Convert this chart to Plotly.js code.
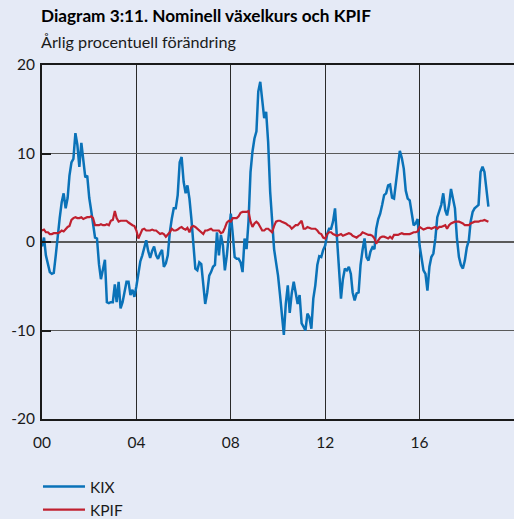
<!DOCTYPE html>
<html>
<head>
<meta charset="utf-8">
<script src="https://cdn.plot.ly/plotly-3.0.1.min.js"></script>
<style>
html,body{margin:0;padding:0;background:#e5eaf6;}
#chart{width:514px;height:519px;}
</style>
</head>
<body>
<div id="chart"></div>
<script>
// Monthly data, January 2000 - December 2018
const startYear = 2000;
const kix = [
 -0.5, 0.5,-1.5,-2.5,-3.4,-3.6,-3.5,-1.5, 1.0, 2.7, 4.5, 5.5,
  3.8, 5.0, 7.5, 9.0, 9.4,12.3,11.0, 8.5,11.2, 9.5, 7.3, 7.5,
  5.0, 3.5, 2.0, 0.5, 0.4,-2.5,-4.2,-3.0,-2.0,-6.8,-6.9,-6.8,
 -6.8,-4.8,-6.8,-4.5,-7.5,-6.8,-5.5,-4.5,-4.5,-6.0,-5.4,-6.2,
 -5.0,-3.5,-2.2,-1.5,-0.5, 0.2,-1.0,-1.8,-1.0,-0.5,-1.5,-1.9,
 -1.3,-0.9,-2.8,-2.4,-1.5, 1.1, 2.6, 3.8, 3.8, 5.3, 9.0, 9.6,
  6.8, 5.5, 6.4, 4.9, 2.6, 0.0,-3.0,-3.2,-2.3,-2.5,-4.5,-7.0,
 -5.7,-3.8,-3.4,-2.8,-2.6, 1.1,-1.5, 0.8,-0.4,-3.2,-1.5, 1.1,
  3.2, 0.8,-1.7,-1.9,-1.9,-2.3,-3.4, 0.4,-0.8, 2.3, 7.9,10.2,
 11.7,12.5,17.0,18.1,16.4,14.0,14.7,11.3, 5.7, 2.3,-0.8,-2.3,
 -3.8,-6.0,-7.9,-10.5,-7.0,-4.9,-8.0,-5.8,-4.5,-6.0,-7.0,-6.0,
 -9.2,-9.6,-10.0,-8.1,-8.5,-9.8,-6.4,-4.9,-2.6,-1.6,-1.7,-0.9,
 -0.4, 0.9, 1.5, 1.5, 2.3, 3.8, 0.0,-3.4,-6.4,-4.2,-3.0,-3.2,
 -2.8,-3.6,-5.7,-6.6,-5.8,-5.7,-2.6,-0.9, 0.4,-1.7,-2.1,-1.1,
 -0.6,-0.8, 1.5, 2.6, 3.2, 4.2, 5.3, 5.5, 6.4, 6.5, 5.0, 4.9,
  6.8, 9.1,10.3, 9.5, 8.3, 5.8, 4.9, 4.7, 3.4, 1.9, 2.1, 2.6,
 -0.4,-2.1,-3.2,-3.6,-5.5,-2.8,-1.7,-1.3, 0.4, 2.8, 3.6, 4.2,
  5.5, 3.6, 3.0, 4.2, 6.0, 4.9, 3.8, 0.4,-1.7,-2.6,-3.0,-2.1,
 -0.6, 0.2, 2.3, 3.4, 3.8, 4.0, 4.2, 7.9, 8.5, 7.9, 5.8, 4.0
];
const kpif = [
 1.3,1.4,1.1,1.1,0.9,0.9,1.0,1.0,1.0,1.1,1.3,1.2,
 1.5,1.7,1.8,2.5,2.7,2.8,2.7,2.7,2.8,2.6,2.7,2.8,
 2.8,2.9,2.7,1.9,1.9,1.9,2.0,1.9,1.9,2.0,1.9,2.4,
 2.5,3.5,2.7,2.3,2.4,2.4,2.4,2.4,2.2,2.0,1.9,1.8,
 1.3,0.4,0.9,1.4,1.5,1.3,1.3,1.3,1.4,1.3,1.3,1.1,
 0.9,1.0,0.9,0.6,0.8,1.1,1.5,1.3,1.3,1.4,1.6,1.7,
 1.5,1.4,1.6,1.1,1.7,1.8,1.7,1.5,1.3,1.1,0.9,1.3,
 1.3,1.4,1.5,1.3,1.3,1.3,1.3,1.0,1.1,1.6,2.2,2.4,
 2.3,2.7,2.7,2.7,2.9,3.3,3.4,3.4,3.4,3.5,2.3,1.7,
 2.1,2.3,2.1,1.7,1.3,1.3,1.5,1.5,1.3,1.1,1.8,2.3,
 2.4,2.4,2.3,2.2,2.1,1.9,1.8,1.5,1.7,1.9,1.9,2.1,
 2.4,1.5,1.5,1.7,1.6,1.5,1.5,1.5,1.3,1.0,0.9,0.5,
 0.4,0.9,1.1,1.1,0.9,0.8,0.7,0.8,0.9,0.7,0.8,0.9,
 1.0,0.9,0.7,0.6,0.5,0.7,0.8,1.1,1.0,0.9,0.8,0.8,
 0.7,0.4,-0.2,0.2,0.5,0.6,0.6,0.5,0.4,0.6,0.4,0.8,
 0.8,0.8,0.9,1.0,0.9,0.9,0.9,0.9,1.0,1.1,1.1,1.2,
 1.7,1.5,1.4,1.5,1.6,1.6,1.5,1.6,1.7,1.5,1.7,1.7,
 1.8,1.9,1.5,1.9,2.1,2.2,2.3,2.3,2.3,2.2,2.1,1.9,
 1.9,1.9,2.1,2.2,2.3,2.3,2.3,2.4,2.4,2.5,2.4,2.3
];
const xTickVals = ['2000-01-01','2004-01-01','2008-01-01','2012-01-01','2016-01-01'];
const xTickText = ['00','04','08','12','16'];
const yTickVals = [-20,-10,0,10,20];
const yTickText = ['-20','-10','0','10','20'];
const titleText = 'Diagram 3:11. Nominell växelkurs och KPIF';
const subtitleText = 'Årlig procentuell förändring';
const seriesNames = ['KIX','KPIF'];

const dates = kix.map((_, i) => {
  const y = startYear + Math.floor(i / 12);
  const m = (i % 12) + 1;
  return y + '-' + (m < 10 ? '0' + m : m) + '-01';
});

const BG = '#e5eaf6';
const FONT = 'Lato, "Open Sans", sans-serif';

const traces = [
  {x: dates, y: kix, name: seriesNames[0], type: 'scatter', mode: 'lines',
   line: {color: '#0a72b8', width: 2.5}},
  {x: dates, y: kpif, name: seriesNames[1], type: 'scatter', mode: 'lines',
   line: {color: '#c0202f', width: 2.2}}
];

const layout = {
  width: 514, height: 519,
  paper_bgcolor: BG, plot_bgcolor: BG,
  margin: {l: 42, r: 0, t: 65, b: 100, pad: 0, autoexpand: false},
  font: {family: FONT, size: 15, color: '#1a1a1a'},
  showlegend: true,
  legend: {x: -0.0085, xanchor: 'left', y: -0.144, yanchor: 'top',
           bgcolor: 'rgba(0,0,0,0)', font: {size: 15.5, family: FONT, color: '#1a1a1a'},
           tracegroupgap: 0, itemwidth: 42},
  xaxis: {type: 'date', range: ['2000-01-01', '2020-01-01'],
          tickmode: 'array', tickvals: xTickVals, ticktext: xTickText,
          showgrid: true, gridcolor: '#2a2a2a', gridwidth: 1,
          showline: true, linecolor: '#1a1a1a', linewidth: 2, mirror: true,
          ticks: '', ticklabelstandoff: 8, zeroline: false,
          tickfont: {size: 15.5, family: FONT, color: '#1a1a1a'}, fixedrange: true},
  yaxis: {range: [-20, 20], tickmode: 'array', tickvals: yTickVals, ticktext: yTickText,
          showgrid: true, gridcolor: '#5a5a5a', gridwidth: 1.5,
          showline: true, linecolor: '#1a1a1a', linewidth: 2,
          ticks: 'inside', ticklen: 9, tickcolor: '#1a1a1a', tickwidth: 2,
          zeroline: false, ticklabelstandoff: 2,
          tickfont: {size: 15.5, family: FONT, color: '#1a1a1a'}, fixedrange: true},
  annotations: [
    {text: '<b>' + titleText + '</b>', xref: 'paper', yref: 'paper', x: -0.006, y: 1.0,
     xanchor: 'left', yanchor: 'bottom', yshift: 37, showarrow: false,
     font: {size: 17.2, family: FONT, color: '#000'}},
    {text: subtitleText, xref: 'paper', yref: 'paper', x: -0.006, y: 1.0,
     xanchor: 'left', yanchor: 'bottom', yshift: 12, showarrow: false,
     font: {size: 16.2, family: FONT, color: '#1a1a1a'}}
  ]
};

Plotly.newPlot('chart', traces, layout, {displayModeBar: false, staticPlot: true});
</script>
</body>
</html>
